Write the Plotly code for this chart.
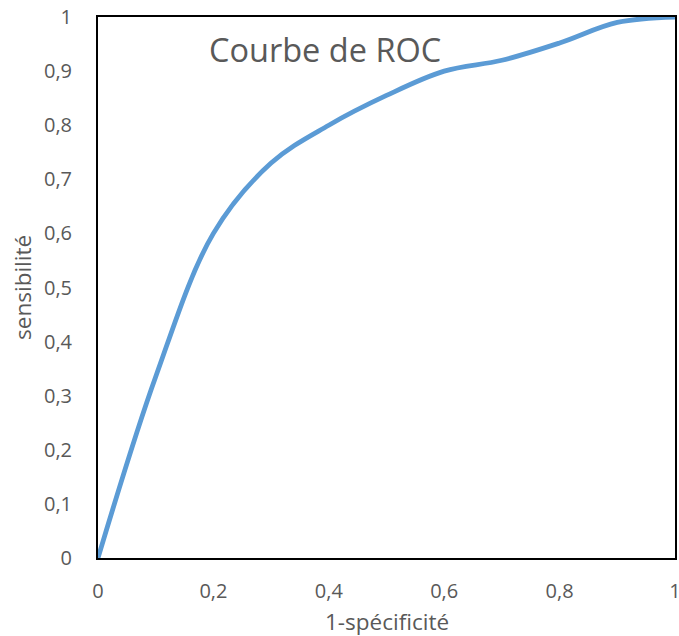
import plotly.graph_objects as go

fpr = [0, 0.1, 0.2, 0.3, 0.4, 0.5, 0.6, 0.7, 0.8, 0.9, 1.0]
tpr = [0, 0.335, 0.60, 0.73, 0.80, 0.855, 0.90, 0.92, 0.952, 0.99, 1.0]

title_text = "Courbe de ROC"
x_title = "1-spécificité"
y_title = "sensibilité"

FONT = "Open Sans"
GREY = "#595959"

fig = go.Figure()
fig.add_trace(go.Scatter(
    x=fpr, y=tpr, mode="lines",
    line=dict(color="#5B9BD5", width=4.8, shape="spline", smoothing=1.0),
    showlegend=False, hoverinfo="skip",
))

fig.update_layout(
    width=679, height=636,
    margin=dict(l=98, r=4, t=17, b=78, autoexpand=False),
    paper_bgcolor="white", plot_bgcolor="white",
    separators=", ",
    font=dict(family=FONT, size=20, color=GREY),
    annotations=[
        dict(text=title_text, x=0.393, y=0.94, xref="paper", yref="paper",
             xanchor="center", yanchor="middle", showarrow=False,
             font=dict(family=FONT, size=32.5, color=GREY)),
        dict(text=x_title, x=0.5, y=-0.118, xref="paper", yref="paper",
             xanchor="center", yanchor="middle", showarrow=False,
             font=dict(family=FONT, size=22.5, color=GREY)),
        dict(text=y_title, x=-0.131, y=0.5, xref="paper", yref="paper",
             xanchor="center", yanchor="middle", showarrow=False, textangle=-90,
             font=dict(family=FONT, size=22.5, color=GREY)),
    ],
)
fig.update_xaxes(
    range=[0, 1], tickmode="linear", tick0=0, dtick=0.2,
    showgrid=False, zeroline=False, automargin=False,
    showline=True, linecolor="black", linewidth=2, mirror=True,
    ticks="", ticklabelstandoff=14, ticklabeloverflow="allow",
    tickfont=dict(family=FONT, size=20, color=GREY),
)
fig.update_yaxes(
    range=[0, 1], tickmode="linear", tick0=0, dtick=0.1,
    showgrid=False, zeroline=False, automargin=False,
    showline=True, linecolor="black", linewidth=2, mirror=True,
    ticks="", ticklabelstandoff=20, ticklabeloverflow="allow",
    tickfont=dict(family=FONT, size=20, color=GREY),
)

fig.write_html("out.html", config={"displayModeBar": False},
               post_script="document.body.style.margin='0';")
